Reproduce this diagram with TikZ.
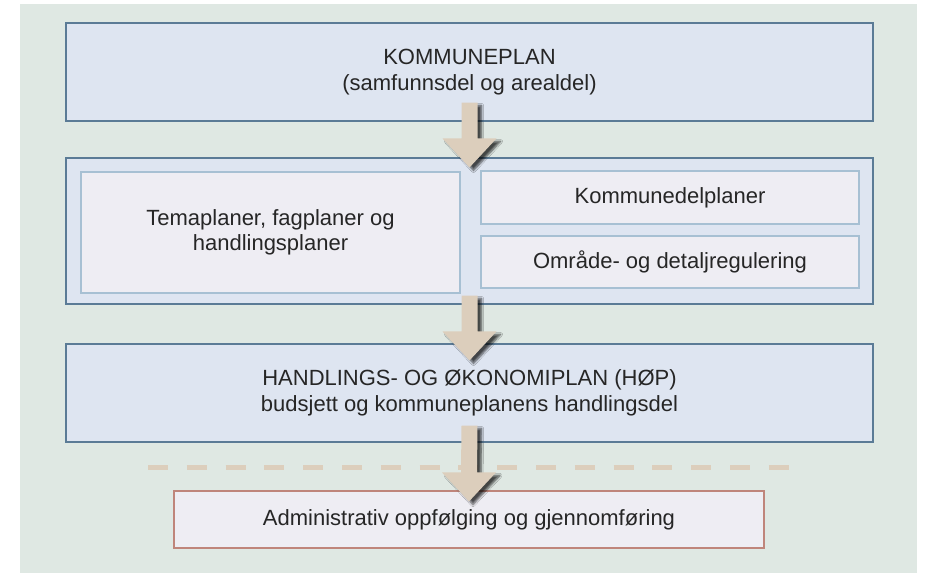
\documentclass[tikz,border=0pt]{standalone}
\usepackage{fontspec}
\setmainfont{Liberation Sans}
\usepackage{tikz}
\usetikzlibrary{calc,shadows.blur}

\definecolor{panelbg}{HTML}{DFE8E3}
\definecolor{planfill}{HTML}{DEE5F1}
\definecolor{planline}{HTML}{5B7B96}
\definecolor{subfill}{HTML}{EEEDF3}
\definecolor{subline}{HTML}{A7C0D3}
\definecolor{adminline}{HTML}{BF857B}
\definecolor{sand}{HTML}{DCCEBC}
\definecolor{textgrey}{HTML}{262626}

\tikzset{
  planbox/.style={draw=planline, fill=planfill, line width=1.1pt, inner sep=0pt,
    text=textgrey, align=center, font=\fontsize{22}{25.5}\selectfont},
  subbox/.style={planbox, draw=subline, fill=subfill, line width=1.6pt},
  adminbox/.style={planbox, draw=adminline, fill=subfill},
  sandarrow/.style={fill=sand, blur shadow={shadow xshift=4pt, shadow yshift=-3pt,
    shadow blur steps=6, shadow opacity=70}},
}

% block arrow from #1 (shaft top) to #2 (tip)
\newcommand\blockarrow[2]{%
  \path[sandarrow]
    ($(#1)+(-8,0)$) -- ($(#2)+(-8,-29)$) -- ($(#2)+(-27,-29)$) --
    (#2) --
    ($(#2)+(27,-29)$) -- ($(#2)+(8,-29)$) -- ($(#1)+(8,0)$) -- cycle;
}

\begin{document}
\begin{tikzpicture}[x=1pt, y=-1pt]
      \useasboundingbox (0,0) rectangle (934,576);
      \fill[panelbg] (20,4) rectangle (917,573);

      \node[planbox, minimum width=807pt, minimum height=98pt] (kplan) at (469.5,72)
            {KOMMUNEPLAN\\(samfunnsdel og arealdel)};
      \node[planbox, minimum width=807pt, minimum height=146pt] (plans) at (469.5,231) {};
      \node[subbox, minimum width=379pt, minimum height=121pt] (tema) at (270.5,232.5)
            {Temaplaner, fagplaner og\\handlingsplaner};
      \node[subbox, minimum width=378pt, minimum height=53pt] (kdel) at (670,197.5)
            {Kommunedelplaner};
      \node[subbox, minimum width=378pt, minimum height=52pt] (omr) at (670,262)
            {Område- og detaljregulering};
      \node[planbox, minimum width=807pt, minimum height=98pt] (hop) at (469.5,393)
            {HANDLINGS- OG ØKONOMIPLAN (HØP)\\budsjett og kommuneplanens handlingsdel};
      \node[adminbox, minimum width=590pt, minimum height=57pt] (admin) at (469,519.5)
            {Administrativ oppfølging og gjennomføring};

      % dashed divider
      \draw[sand, line width=5pt, dash pattern=on 20pt off 18.8pt] (148,467) -- (789,467);

      % arrows
      \coordinate (a1s) at ([yshift=19pt]kplan.south);
      \coordinate (a1e) at ([yshift=-10pt]plans.north);
      \coordinate (a2s) at ([yshift=9pt]plans.south);
      \coordinate (a2e) at ([yshift=-17pt]hop.north);
      \coordinate (a3s) at ([yshift=17pt]hop.south);
      \coordinate (a3e) at ([yshift=-11pt]admin.north);
      \blockarrow{a1s}{a1e}
      \blockarrow{a2s}{a2e}
      \blockarrow{a3s}{a3e}
    \end{tikzpicture}
\end{document}
